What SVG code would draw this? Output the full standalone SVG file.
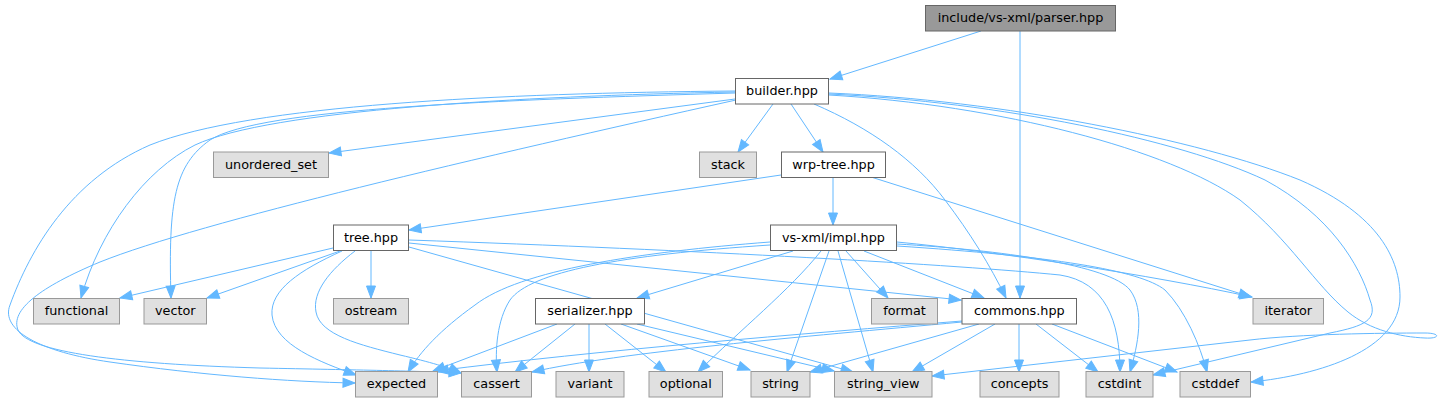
<svg xmlns="http://www.w3.org/2000/svg" width="1439" height="403" viewBox="0 0 1439 403">
<style>
.n rect{stroke-width:1}
.ext rect{fill:#e0e0e0;stroke:#999999}
.int rect{fill:#ffffff;stroke:#666666}
.root rect{fill:#999999;stroke:#666666}
text{font-family:"DejaVu Sans","Liberation Sans",sans-serif;font-size:12.8px;fill:#000;text-anchor:middle}
#edges path{fill:none;stroke:#63b8ff;stroke-width:1;marker-end:url(#arr)}
</style>
<defs>
<marker id="arr" markerUnits="userSpaceOnUse" markerWidth="14" markerHeight="11" refX="12" refY="4.5" orient="auto" overflow="visible">
<path d="M0,0 L12,4.5 L0,9 z" fill="#63b8ff" stroke="#63b8ff" stroke-width="1"/>
</marker>
</defs>
<rect width="1439" height="403" fill="#ffffff"/>
<g id="edges">
<path d="M981,31 L830,79"/>
<path d="M1020,31 L1020,298"/>
<path d="M735,99 L329,153"/>
<path d="M773,104 L738,152"/>
<path d="M791,104 L823,152"/>
<path d="M814,104 C870,128 915,160 945,200 C970,233 990,265 1006,298"/>
<path d="M735,92 C520,96 270,110 195,145 C145,170 100,230 81,298"/>
<path d="M735,93 C500,100 260,108 210,140 C175,165 168,200 171,298"/>
<path d="M735,91 C500,93 250,105 150,145 C70,180 30,250 10,305 C0,330 40,352 110,362 C200,375 290,382 355,383"/>
<path d="M736,100 C480,157 200,222 100,262 C40,287 10,310 18,330 C28,352 120,364 260,368 C360,370 420,371 461,373"/>
<path d="M829,93 C1000,100 1200,140 1300,180 C1380,215 1400,260 1400,297 C1400,350 1320,375 1251,382"/>
<path d="M829,94 C1000,102 1180,140 1265,180 C1330,215 1360,265 1370,300 C1378,320 1365,326 1330,333 L1153,375"/>
<path d="M829,95 C1000,105 1170,150 1240,200 C1290,240 1315,285 1348,312 C1370,330 1400,337 1425,338 C1440,339 1441,333 1425,333 C1380,333 1300,334 1250,340 L932,376"/>
<path d="M781,175 L409,230"/>
<path d="M833,177 L833,225"/>
<path d="M871,177 L1251,297"/>
<path d="M333,248 L120,298"/>
<path d="M340,251 L207,298"/>
<path d="M371,251 L371,298"/>
<path d="M342,251 C300,270 270,290 272,315 C275,345 320,362 356,375"/>
<path d="M355,251 C330,270 312,292 316,312 C320,335 360,345 400,355 C430,362 450,368 461,373"/>
<path d="M409,243 L961,300"/>
<path d="M409,247 L853,372"/>
<path d="M409,240 C700,250 960,265 1060,275 C1105,282 1120,320 1120,372"/>
<path d="M793,251 L637,298"/>
<path d="M770,242 C640,252 520,270 475,305 C440,330 420,352 408,372"/>
<path d="M770,245 C620,255 530,272 510,300 C497,320 495,350 497,372"/>
<path d="M821,251 C790,290 740,330 698,372"/>
<path d="M829,251 L787,372"/>
<path d="M838,251 L873,372"/>
<path d="M846,251 L888,298"/>
<path d="M864,251 L984,298"/>
<path d="M897,242 C1000,252 1150,275 1252,297"/>
<path d="M897,244 C1000,250 1110,265 1130,290 C1145,310 1138,345 1130,372"/>
<path d="M897,246 C1050,256 1140,270 1165,290 C1185,310 1200,345 1207,372"/>
<path d="M557,324 L433,371"/>
<path d="M575,324 L515,372"/>
<path d="M589,324 L589,372"/>
<path d="M605,324 L666,372"/>
<path d="M621,324 L750,370"/>
<path d="M637,324 L834,371"/>
<path d="M962,321 C800,334 600,350 436,371"/>
<path d="M962,322 C800,337 620,352 532,372"/>
<path d="M979,324 L810,372"/>
<path d="M995,324 L912,372"/>
<path d="M1019,324 L1019,372"/>
<path d="M1036,324 L1098,372"/>
<path d="M1052,324 L1177,372"/>
</g>
<g id="n-parser" class="n root"><rect x="925.5" y="5.5" width="190" height="25.5"/><text x="1020.5" y="22">include/vs-xml/parser.hpp</text></g>
<g id="n-builder" class="n int"><rect x="735.5" y="78.5" width="93" height="25.5"/><text x="782" y="95">builder.hpp</text></g>
<g id="n-unordered_set" class="n ext"><rect x="213.5" y="152" width="115" height="25.5"/><text x="271" y="168.5">unordered_set</text></g>
<g id="n-stack" class="n ext"><rect x="699.5" y="152" width="57" height="25.5"/><text x="728" y="168.5">stack</text></g>
<g id="n-wrp-tree" class="n int"><rect x="781.5" y="152" width="104" height="25.5"/><text x="833.5" y="168.5">wrp-tree.hpp</text></g>
<g id="n-tree" class="n int"><rect x="333.5" y="225" width="75" height="25.5"/><text x="371" y="241.5">tree.hpp</text></g>
<g id="n-impl" class="n int"><rect x="770.5" y="225" width="126" height="25.5"/><text x="833.5" y="241.5">vs-xml/impl.hpp</text></g>
<g id="n-functional" class="n ext"><rect x="33.5" y="298.5" width="86" height="25.5"/><text x="76.5" y="315">functional</text></g>
<g id="n-vector" class="n ext"><rect x="144" y="298.5" width="62.5" height="25.5"/><text x="175.3" y="315">vector</text></g>
<g id="n-ostream" class="n ext"><rect x="333.5" y="298.5" width="75" height="25.5"/><text x="371" y="315">ostream</text></g>
<g id="n-serializer" class="n int"><rect x="535.5" y="298.5" width="109" height="25.5"/><text x="590" y="315">serializer.hpp</text></g>
<g id="n-format" class="n ext"><rect x="871.5" y="298.5" width="66" height="25.5"/><text x="904.5" y="315">format</text></g>
<g id="n-commons" class="n int"><rect x="962" y="298.5" width="114.5" height="25.5"/><text x="1019.3" y="315">commons.hpp</text></g>
<g id="n-iterator" class="n ext"><rect x="1253" y="298.5" width="70.5" height="25.5"/><text x="1288.3" y="315">iterator</text></g>
<g id="n-expected" class="n ext"><rect x="355.5" y="371.5" width="82" height="25.5"/><text x="396.5" y="388">expected</text></g>
<g id="n-cassert" class="n ext"><rect x="461.5" y="371.5" width="70" height="25.5"/><text x="496.5" y="388">cassert</text></g>
<g id="n-variant" class="n ext"><rect x="556" y="371.5" width="68" height="25.5"/><text x="590" y="388">variant</text></g>
<g id="n-optional" class="n ext"><rect x="649" y="371.5" width="73.5" height="25.5"/><text x="685.8" y="388">optional</text></g>
<g id="n-string" class="n ext"><rect x="751" y="371.5" width="59" height="25.5"/><text x="780.5" y="388">string</text></g>
<g id="n-string_view" class="n ext"><rect x="834.5" y="371.5" width="97.5" height="25.5"/><text x="883.3" y="388">string_view</text></g>
<g id="n-concepts" class="n ext"><rect x="980" y="371.5" width="79" height="25.5"/><text x="1019.5" y="388">concepts</text></g>
<g id="n-cstdint" class="n ext"><rect x="1086" y="371.5" width="67" height="25.5"/><text x="1119.5" y="388">cstdint</text></g>
<g id="n-cstddef" class="n ext"><rect x="1180" y="371.5" width="70.5" height="25.5"/><text x="1215.3" y="388">cstddef</text></g>
</svg>
